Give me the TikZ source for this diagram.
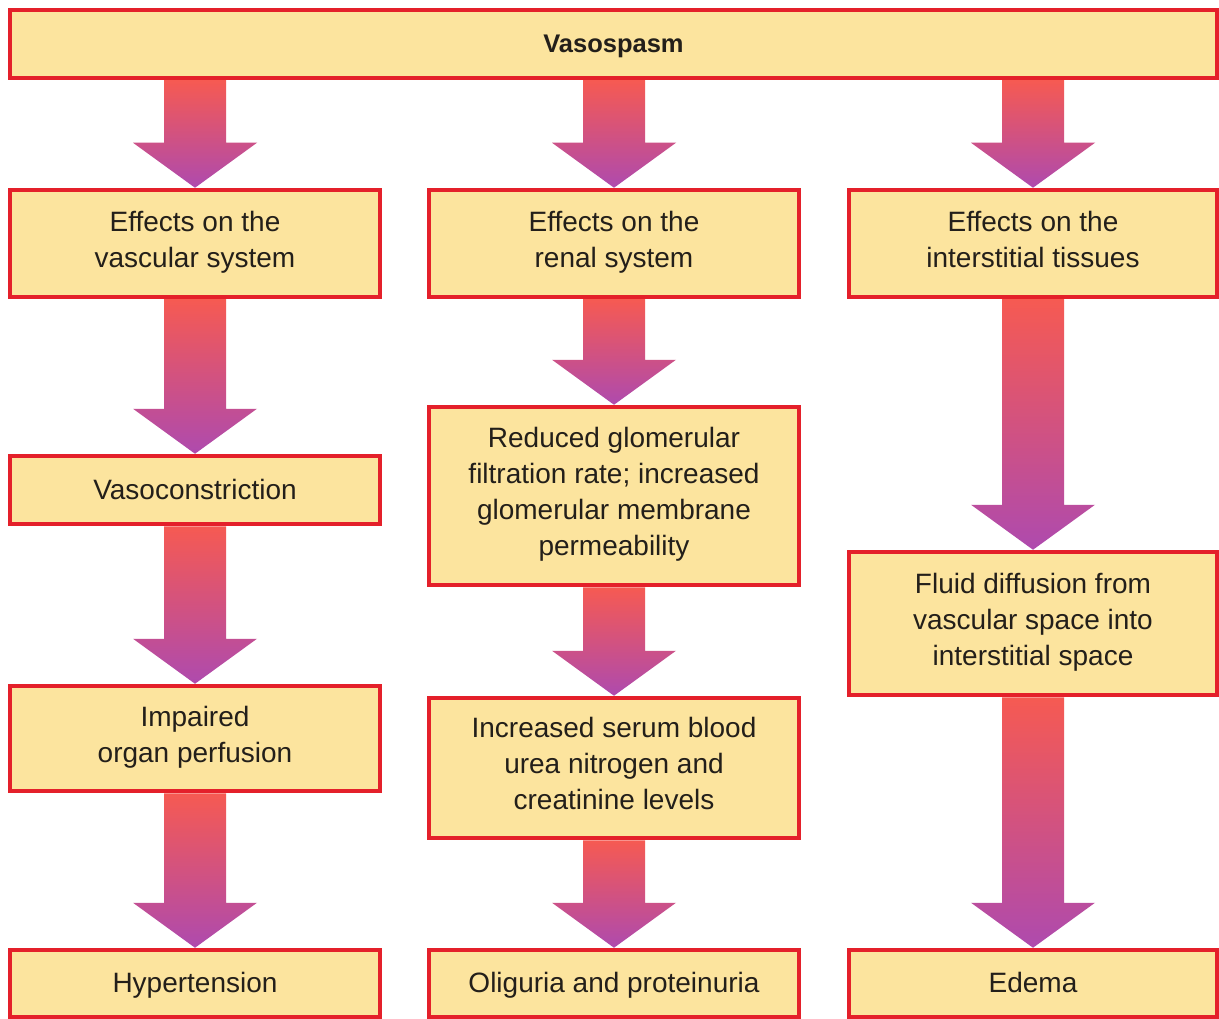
\documentclass[tikz,border=0pt]{standalone}
\usepackage{fontspec}
\setmainfont{Liberation Sans}
\usetikzlibrary{calc,backgrounds}
\definecolor{boxred}{HTML}{E4202A}
\definecolor{boxfill}{HTML}{FCE49E}
\definecolor{arrtop}{HTML}{F65A52}
\definecolor{arrbot}{HTML}{AE4AAE}
\definecolor{txt}{HTML}{231F1A}
\newcommand\topstrut{\rule{0pt}{27pt}}
\newcommand\botstrut{\rule[-9pt]{0pt}{9pt}}
\tikzset{
  box/.style={draw=boxred, line width=4.5pt, fill=boxfill, inner sep=0pt, align=center,
    text=txt, font=\fontsize{28}{36}\selectfont,
    execute at begin node=\topstrut, execute at end node=\botstrut},
}
\newcommand\fatarrow[2]{%
  \shade[top color=arrtop, bottom color=arrbot]
    let \p1=(#1.south), \p2=(#2.north) in
    (\x1-31pt,\y1) -- (\x1+31pt,\y1) -- (\x1+31pt,\y2+45pt) -- (\x1+62pt,\y2+45pt)
    -- (\x2,\y2) -- (\x1-62pt,\y2+45pt) -- (\x1-31pt,\y2+45pt) -- cycle;}
\begin{document}
\begin{tikzpicture}[x=1pt,y=-1pt]
\useasboundingbox (0,0) rectangle (1219,1019);
\node[box, minimum width=1207pt, minimum height=68pt, font=\fontsize{25.5}{30}\selectfont\bfseries] (top) at (613.5,44) {Vasospasm};
% column 1
\node[box, minimum width=370pt, minimum height=107pt] (vas) at (195,243.5) {Effects on the\\vascular system};
\node[box, minimum width=370pt, minimum height=68pt] (con) at (195,490) {Vasoconstriction};
\node[box, minimum width=370pt, minimum height=105pt] (imp) at (195,738.5) {Impaired\\organ perfusion};
\node[box, minimum width=370pt, minimum height=67pt] (hyp) at (195,983.5) {Hypertension};
% column 2
\node[box, minimum width=370pt, minimum height=107pt] (ren) at (614,243.5) {Effects on the\\renal system};
\node[box, minimum width=370pt, minimum height=178pt] (gfr) at (614,496) {Reduced glomerular\\filtration rate; increased\\glomerular membrane\\permeability};
\node[box, minimum width=370pt, minimum height=140pt] (bun) at (614,768) {Increased serum blood\\urea nitrogen and\\creatinine levels};
\node[box, minimum width=370pt, minimum height=67pt] (oli) at (614,983.5) {Oliguria and proteinuria};
% column 3
\node[box, minimum width=368pt, minimum height=107pt] (int) at (1033,243.5) {Effects on the\\interstitial tissues};
\node[box, minimum width=368pt, minimum height=143pt] (flu) at (1033,623.5) {Fluid diffusion from\\vascular space into\\interstitial space};
\node[box, minimum width=368pt, minimum height=67pt] (ede) at (1033,983.5) {Edema};
\begin{pgfonlayer}{background}
\fill[white] (0,0) rectangle (1219,1019);
\coordinate (t1) at (vas.north |- top.south);
\coordinate (t2) at (ren.north |- top.south);
\coordinate (t3) at (int.north |- top.south);
\fatarrow{t1}{vas}
\fatarrow{t2}{ren}
\fatarrow{t3}{int}
\fatarrow{vas}{con}
\fatarrow{con}{imp}
\fatarrow{imp}{hyp}
\fatarrow{ren}{gfr}
\fatarrow{gfr}{bun}
\fatarrow{bun}{oli}
\fatarrow{int}{flu}
\fatarrow{flu}{ede}
\end{pgfonlayer}
\end{tikzpicture}
\end{document}
